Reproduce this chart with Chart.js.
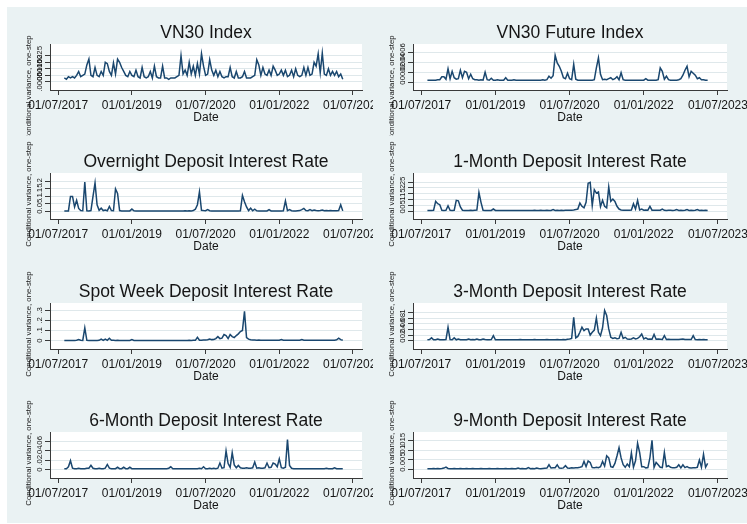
<!DOCTYPE html>
<html>
<head>
<meta charset="utf-8">
<script src="https://cdn.jsdelivr.net/npm/chart.js@4.4.1/dist/chart.umd.min.js"></script>
<style>
    html, body { margin: 0; padding: 0; background: #fff; }
    #page { position: relative; width: 747px; height: 524px; overflow: hidden; background: #fff; }
    #bg { position: absolute; left: 7px; top: 7px; width: 740px; height: 516px; background: #eaf2f3; }
    canvas { position: absolute; }
</style>
</head>
<body>
<div id="page"><div id="bg"></div></div>
<script>
// Observations: one reading every half month, starting mid-Aug 2017
// (x is counted in months from 01/07/2017)
const firstMonth = 1.5;
const stepMonths = 0.5;

const xTickMonths = [0, 18, 36, 54, 72];
const xTickLabels = ['01/07/2017', '01/01/2019', '01/07/2020', '01/01/2022', '01/07/2023'];

const yTitle = 'Conditional variance, one-step';

// Conditional variance series
const vn30Index = [
    .0008, .0007, .0009, .0008, .0009, .0008, .001, .0013, .0009, .001,
    .0011, .0018, .00225, .001, .0009, .0016, .001, .0009, .0013, .001,
    .002, .0019, .0013, .001, .00195, .0011, .00225, .002, .0016, .0013,
    .001, .0009, .0013, .001, .0009, .0014, .0009, .0008, .0016, .0009,
    .0008, .0009, .0013, .0008, .0017, .0009, .0008, .0008, .0017, .0008,
    .0008, .0007, .0008, .0008, .0008, .0009, .001, .0025, .0011, .0014,
    .001, .002, .0011, .0017, .001, .0019, .0011, .00265, .0017, .001,
    .0011, .0022, .0014, .001, .0014, .0009, .0013, .0009, .0008, .0009,
    .0009, .0016, .0009, .0008, .0013, .0008, .0008, .0009, .0013, .0008,
    .0008, .0008, .0009, .001, .0022, .0018, .001, .0016, .0011, .001,
    .0014, .001, .0017, .0014, .001, .0011, .0014, .001, .0014, .0009,
    .001, .0014, .0009, .0015, .001, .0009, .001, .0016, .001, .0016,
    .001, .0011, .002, .0017, .00265, .0012, .0027, .0011, .001, .0015,
    .001, .0013, .001, .0013, .0009, .0011, .0007
];
const vn30Future = [
    .00005, .00005, .00005, .00005, .00005, .00006, .00006, .00012, .00012, .00007,
    .00028, .00008, .00023, .0001, .00007, .00008, .00025, .0001, .00023, .00021,
    .00008, .00017, .00008, .00006, .00006, .00005, .00006, .00005, .00021, .00006,
    .00005, .00009, .00005, .00005, .00006, .00005, .00005, .00005, .0001, .00005,
    .00005, .00005, .00006, .00005, .00005, .00005, .00005, .00005, .00005, .00005,
    .00005, .00005, .00005, .00005, .00005, .00005, .00006, .00005, .00006, .00013,
    .00009, .00014, .00055, .0004, .00033, .00023, .0001, .00008, .00019, .00008,
    .00006, .00037, .00007, .00005, .00005, .00005, .00005, .00005, .00005, .00005,
    .00005, .00006, .0003, .0005, .00017, .00006, .00007, .00006, .00008, .0001,
    .00006, .00008, .00012, .00006, .0002, .00006, .00005, .00005, .00005, .00005,
    .00005, .00005, .00005, .00005, .00005, .00005, .00008, .00005, .00005, .00005,
    .00005, .00005, .00006, .0003, .00023, .00007, .00013, .00006, .00005, .00005,
    .00005, .00005, .00006, .00008, .00015, .00025, .00033, .00012, .00023, .00019,
    .00015, .00008, .0001, .00006, .00006, .00005, .00005
];
const overnightRate = [
    .004, .004, .004, .1, .1, .03, .075, .02, .006, .005,
    .195, .005, .004, .006, .1, .19, .044, .008, .022, .006,
    .01, .005, .033, .006, .005, .15, .12, .006, .004, .004,
    .004, .004, .004, .016, .005, .004, .004, .004, .004, .004,
    .004, .004, .004, .004, .004, .004, .004, .004, .004, .004,
    .004, .004, .004, .004, .004, .004, .004, .004, .004, .005,
    .004, .005, .004, .006, .015, .045, .13, .008, .006, .005,
    .012, .005, .004, .004, .004, .004, .004, .004, .004, .004,
    .004, .004, .004, .004, .004, .004, .005, .107, .065, .03,
    .006, .022, .005, .015, .005, .004, .004, .004, .004, .004,
    .012, .004, .004, .004, .004, .004, .004, .005, .071, .006,
    .012, .005, .004, .004, .005, .006, .012, .02, .006, .005,
    .012, .005, .01, .006, .005, .006, .01, .005, .006, .005,
    .006, .005, .005, .005, .006, .045, .004
];
const oneMonthRate = [
    .008, .008, .008, .01, .085, .065, .057, .01, .008, .009,
    .048, .009, .008, .01, .094, .09, .037, .01, .008, .008,
    .008, .009, .008, .01, .012, .162, .077, .01, .008, .008,
    .008, .008, .02, .008, .008, .008, .008, .008, .008, .008,
    .008, .008, .008, .008, .008, .008, .008, .008, .008, .008,
    .008, .008, .009, .008, .008, .009, .008, .008, .009, .008,
    .008, .015, .008, .009, .008, .01, .008, .009, .01, .009,
    .01, .012, .015, .02, .071, .043, .03, .077, .24, .247,
    .05, .185, .156, .165, .04, .094, .043, .03, .207, .085,
    .105, .085, .043, .02, .012, .01, .01, .009, .01, .012,
    .065, .02, .094, .012, .02, .01, .012, .01, .043, .01,
    .009, .01, .009, .01, .02, .009, .008, .009, .01, .008,
    .009, .015, .008, .009, .008, .009, .015, .008, .009, .008,
    .009, .015, .008, .009, .008, .009, .008
];
const spotWeekRate = [
    .002, .002, .002, .002, .002, .002, .003, .01, .003, .002,
    .127, .003, .002, .002, .002, .002, .002, .003, .015, .003,
    .015, .003, .023, .004, .003, .002, .003, .002, .002, .002,
    .002, .002, .002, .01, .002, .002, .002, .002, .002, .002,
    .002, .002, .002, .002, .002, .002, .002, .002, .002, .002,
    .002, .002, .002, .002, .002, .002, .002, .002, .002, .002,
    .002, .003, .002, .004, .003, .033, .004, .003, .005, .006,
    .008, .015, .01, .012, .02, .04, .02, .025, .06, .05,
    .02, .06, .04, .03, .05, .067, .09, .1, .29, .03,
    .015, .008, .006, .005, .004, .005, .004, .003, .004, .003,
    .004, .003, .003, .004, .003, .003, .01, .003, .004, .003,
    .003, .004, .003, .003, .004, .003, .01, .003, .004, .003,
    .003, .004, .003, .004, .003, .004, .003, .004, .003, .003,
    .004, .003, .004, .008, .025, .01, .003
];
const threeMonthRate = [
    .003, .004, .01, .003, .003, .006, .003, .003, .003, .004,
    .048, .004, .003, .01, .003, .006, .003, .003, .003, .003,
    .006, .003, .004, .003, .006, .003, .003, .006, .004, .003,
    .003, .004, .018, .003, .003, .003, .003, .003, .003, .003,
    .003, .003, .003, .003, .003, .004, .003, .003, .003, .003,
    .003, .003, .004, .003, .003, .003, .003, .003, .004, .003,
    .003, .003, .003, .004, .003, .003, .004, .003, .005, .006,
    .008, .084, .01, .015, .03, .048, .036, .042, .042, .02,
    .03, .038, .081, .03, .018, .046, .108, .09, .042, .012,
    .008, .01, .007, .008, .03, .008, .012, .006, .005, .006,
    .01, .006, .008, .014, .024, .006, .01, .005, .006, .005,
    .022, .005, .006, .005, .004, .018, .004, .005, .004, .004,
    .004, .004, .004, .005, .006, .004, .004, .004, .004, .018,
    .004, .003, .004, .003, .004, .003, .003
];
const sixMonthRate = [
    .002, .002, .006, .019, .003, .002, .002, .003, .002, .002,
    .002, .003, .003, .009, .003, .002, .002, .003, .002, .002,
    .003, .011, .003, .002, .002, .002, .005, .002, .002, .005,
    .002, .002, .005, .002, .002, .002, .002, .002, .002, .002,
    .002, .002, .002, .002, .002, .002, .002, .002, .002, .002,
    .002, .003, .006, .002, .002, .002, .002, .002, .002, .002,
    .002, .002, .002, .002, .002, .002, .003, .002, .006, .002,
    .002, .003, .002, .003, .002, .003, .014, .003, .004, .04,
    .013, .005, .036, .01, .004, .009, .004, .003, .003, .004,
    .003, .003, .004, .016, .003, .004, .003, .003, .004, .014,
    .004, .005, .014, .012, .006, .023, .004, .003, .005, .064,
    .009, .003, .002, .002, .002, .002, .002, .002, .002, .002,
    .002, .002, .002, .002, .002, .002, .002, .002, .003, .002,
    .002, .002, .004, .002, .002, .002, .002
];
const nineMonthRate = [
    .0005, .0005, .0005, .0006, .0005, .0006, .0005, .0006, .0008, .0013,
    .0006, .0005, .0005, .0006, .0005, .0005, .0006, .0005, .0005, .0006,
    .0005, .0005, .0006, .0005, .0005, .0005, .0006, .0005, .0005, .0005,
    .0006, .0005, .0005, .0005, .0006, .0005, .0005, .0005, .0006, .0005,
    .0005, .0006, .0005, .0005, .0008, .0005, .0006, .0005, .0005, .001,
    .0005, .0006, .0005, .0008, .0006, .0005, .0006, .0007, .0008, .0025,
    .0008, .0009, .001, .0025, .0008, .0007, .0009, .002, .0008, .0007,
    .0009, .0008, .0009, .001, .0012, .0015, .0042, .0015, .0045, .0037,
    .001, .0009, .0012, .001, .0015, .0042, .0018, .0071, .006, .0015,
    .0012, .0032, .007, .0113, .006, .0025, .0012, .0029, .0015, .0086,
    .0012, .0045, .0135, .0088, .0015, .0015, .0009, .001, .0062, .015,
    .0012, .0037, .0025, .0012, .001, .0088, .0015, .002, .0012, .0009,
    .001, .0012, .0025, .0009, .0025, .001, .0015, .0009, .0008, .0009,
    .0009, .0012, .0049, .0012, .0079, .0012, .0032
];

// y ticks (Stata style labels)
const vn30IndexTicks = [.0005, .001, .0015, .002, .0025];
const vn30IndexTickLabels = ['.0005', '.001', '.0015', '.002', '.0025'];
const vn30FutureTicks = [0, .0002, .0004, .0006];
const vn30FutureTickLabels = ['0', '.0002', '.0004', '.0006'];
const overnightTicks = [0, .05, .1, .15, .2];
const overnightTickLabels = ['0', '.05', '.1', '.15', '.2'];
const oneMonthTicks = [0, .05, .1, .15, .2, .25];
const oneMonthTickLabels = ['0', '.05', '.1', '.15', '.2', '.25'];
const spotWeekTicks = [0, .1, .2, .3];
const spotWeekTickLabels = ['0', '.1', '.2', '.3'];
const threeMonthTicks = [0, .02, .04, .06, .08, .1];
const threeMonthTickLabels = ['0', '.02', '.04', '.06', '.08', '.1'];
const sixMonthTicks = [0, .02, .04, .06];
const sixMonthTickLabels = ['0', '.02', '.04', '.06'];
const nineMonthTicks = [0, .005, .01, .015];
const nineMonthTickLabels = ['0', '.005', '.01', '.015'];

const panels = [
    { title: 'VN30 Index', values: vn30Index, ticks: vn30IndexTicks, labels: vn30IndexTickLabels, yMin: -0.00012, yMax: 0.0034, col: 0, row: 0 },
    { title: 'VN30 Future Index', values: vn30Future, ticks: vn30FutureTicks, labels: vn30FutureTickLabels, yMin: -0.000148, yMax: 0.00078, col: 1, row: 0 },
    { title: 'Overnight Deposit Interest Rate', values: overnightRate, ticks: overnightTicks, labels: overnightTickLabels, yMin: -0.05, yMax: 0.256, col: 0, row: 1 },
    { title: '1-Month Deposit Interest Rate', values: oneMonthRate, ticks: oneMonthTicks, labels: oneMonthTickLabels, yMin: -0.065, yMax: 0.327, col: 1, row: 1 },
    { title: 'Spot Week Deposit Interest Rate', values: spotWeekRate, ticks: spotWeekTicks, labels: spotWeekTickLabels, yMin: -0.083, yMax: 0.373, col: 0, row: 2 },
    { title: '3-Month Deposit Interest Rate', values: threeMonthRate, ticks: threeMonthTicks, labels: threeMonthTickLabels, yMin: -0.03, yMax: 0.135, col: 1, row: 2 },
    { title: '6-Month Deposit Interest Rate', values: sixMonthRate, ticks: sixMonthTicks, labels: sixMonthTickLabels, yMin: -0.0178, yMax: 0.08, col: 0, row: 3 },
    { title: '9-Month Deposit Interest Rate', values: nineMonthRate, ticks: nineMonthTicks, labels: nineMonthTickLabels, yMin: -0.0043, yMax: 0.0193, col: 1, row: 3 }
];

const FONT = '"Liberation Sans", Arial, Helvetica, sans-serif';
const LINE_COLOR = '#1a476f';
const GRID_COLOR = '#dfe8eb';
const AXIS_COLOR = '#3a3a3a';
const TEXT_COLOR = '#151515';
const ROW_TOPS = [0, 129, 259, 388];

// white plot region + rotated y tick labels and y title (Stata look)
function axisDecor(p) {
    return {
        id: 'axisDecor',
        beforeDraw(chart) {
            const { ctx, chartArea: a } = chart;
            ctx.save();
            ctx.fillStyle = '#ffffff';
            ctx.fillRect(a.left, a.top, a.right - a.left, a.bottom - a.top);
            ctx.restore();
        },
        afterDraw(chart) {
            const { ctx, chartArea: a, scales } = chart;
            const y = scales.y;
            ctx.save();
            ctx.fillStyle = TEXT_COLOR;
            ctx.font = '7.8px ' + FONT;
            ctx.textAlign = 'center';
            ctx.textBaseline = 'middle';
            p.ticks.forEach((v, i) => {
                ctx.save();
                ctx.translate(a.left - 10, y.getPixelForValue(v));
                ctx.rotate(-Math.PI / 2);
                ctx.fillText(p.labels[i], 0, 0);
                ctx.restore();
            });
            const titleMid = p.row === 0 ? 88 : 65;
            ctx.translate(a.left - 21, titleMid);
            ctx.rotate(-Math.PI / 2);
            ctx.fillText(yTitle, 0, 0);
            ctx.restore();
        }
    };
}

const page = document.getElementById('page');

panels.forEach(p => {
    const canvas = document.createElement('canvas');
    const w = p.col ? 374 : 373;
    const h = 136;
    canvas.width = w;
    canvas.height = h;
    canvas.style.left = (p.col ? 373 : 0) + 'px';
    canvas.style.top = ROW_TOPS[p.row] + 'px';
    canvas.style.width = w + 'px';
    canvas.style.height = h + 'px';
    page.appendChild(canvas);

    const points = p.values.map((v, i) => ({ x: firstMonth + i * stepMonths, y: v }));

    new Chart(canvas, {
        type: 'line',
        data: {
            datasets: [{
                data: points,
                borderColor: LINE_COLOR,
                borderWidth: 1.5,
                pointRadius: 0,
                tension: 0,
                fill: false
            }]
        },
        options: {
            responsive: false,
            animation: false,
            devicePixelRatio: 1,
            layout: { padding: { top: 23, right: p.col ? 20 : 11, bottom: 0, left: 0 } },
            plugins: {
                legend: { display: false },
                tooltip: { enabled: false },
                title: {
                    display: true,
                    text: p.title,
                    fullSize: false,
                    color: TEXT_COLOR,
                    padding: 0,
                    font: { family: FONT, size: 17.5, weight: 'normal', lineHeight: 1.2 }
                }
            },
            scales: {
                x: {
                    type: 'linear',
                    min: -2,
                    max: 74.2,
                    afterBuildTicks: s => { s.ticks = xTickMonths.map(v => ({ value: v })); },
                    afterFit: s => { s.height = 46; s.paddingLeft = 0; s.paddingRight = 0; },
                    grid: { drawOnChartArea: false, drawTicks: true, tickLength: 5, tickColor: AXIS_COLOR },
                    border: { color: AXIS_COLOR, width: 1 },
                    ticks: {
                        autoSkip: false,
                        minRotation: 0,
                        maxRotation: 0,
                        padding: 3,
                        color: TEXT_COLOR,
                        font: { family: FONT, size: 12 },
                        callback: (v, i) => xTickLabels[i]
                    },
                    title: {
                        display: true,
                        text: 'Date',
                        color: TEXT_COLOR,
                        font: { family: FONT, size: 12 },
                        padding: { top: 0, bottom: 11 }
                    }
                },
                y: {
                    type: 'linear',
                    min: p.yMin,
                    max: p.yMax,
                    afterBuildTicks: s => { s.ticks = p.ticks.map(v => ({ value: v })); },
                    afterFit: s => { s.width = p.col ? 40 : 50; },
                    grid: { color: GRID_COLOR, drawTicks: true, tickLength: 5, tickColor: AXIS_COLOR },
                    border: { color: AXIS_COLOR, width: 1 },
                    ticks: { display: false }
                }
            }
        },
        plugins: [axisDecor(p)]
    });
});
</script>
</body>
</html>
